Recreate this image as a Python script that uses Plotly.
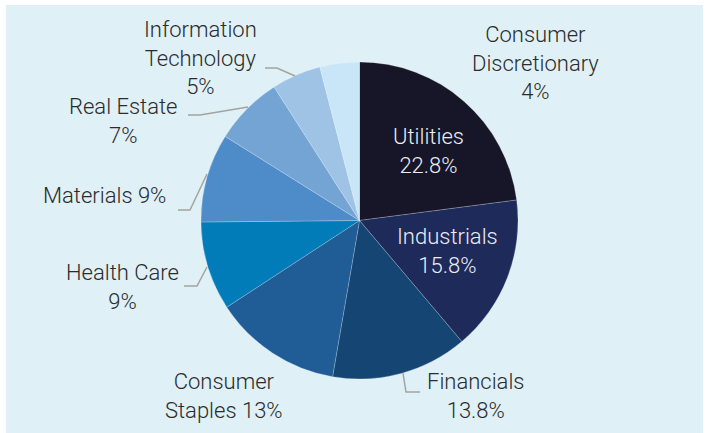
import plotly.graph_objects as go

W, H = 706, 433

sectors = ['Utilities', 'Industrials', 'Financials', 'Consumer Staples', 'Health Care',
           'Materials', 'Real Estate', 'Information Technology', 'Consumer Discretionary']
weights = [22.8, 15.8, 13.8, 13, 9, 9, 7, 5, 4]
label_text = ['Utilities<br>22.8%', 'Industrials<br>15.8%', 'Financials<br>13.8%',
              'Consumer<br>Staples 13%', 'Health Care<br>9%', 'Materials 9%',
              'Real Estate<br>7%', 'Information<br>Technology<br>5%', 'Consumer<br>Discretionary<br>4%']
slice_colors = ['#161628', '#1d2a5a', '#154673', '#205c96', '#017cb8',
                '#4d8cc8', '#74a4d4', '#9fc3e5', '#c8e6f7']

# label centres in pixels, and leader lines (pixels)
label_pos = [(428, 151), (447, 251), (475, 396), (224, 396), (122, 287),
             (105, 195), (123, 121), (200, 58), (535, 63)]
leaders = {
    'Information Technology': [(265, 68), (277, 68), (295, 76)],
    'Real Estate': [(188, 115), (200, 115), (248, 107)],
    'Materials': [(178, 210), (190, 210), (207, 174)],
    'Health Care': [(184, 286), (197, 286), (207, 267)],
    'Financials': [(420, 392), (406, 392), (403, 373)],
}


def px(x, y):
    return x / W, 1 - y / H


fig = go.Figure(go.Pie(
    labels=sectors,
    values=weights,
    sort=False,
    direction='clockwise',
    rotation=0,
    textinfo='none',
    marker=dict(colors=slice_colors, line=dict(color='rgba(255,255,255,0.35)', width=0.6)),
    domain=dict(x=[201 / W, 518 / W], y=[1 - 379 / H, 1 - 62 / H]),
    showlegend=False,
))

for i, txt in enumerate(label_text):
    x, y = px(*label_pos[i])
    inside = i < 2
    fig.add_annotation(
        x=x, y=y, xref='paper', yref='paper', text=txt, showarrow=False,
        xanchor='center', yanchor='middle', align='center',
        font=dict(family='Roboto', size=22, weight=300,
                  color='#ecedf3' if inside else '#2b2b2b'),
    )

for name, pts in leaders.items():
    path = ''
    for j, (x, y) in enumerate(pts):
        xp, yp = px(x, y)
        path += ('M' if j == 0 else 'L') + f' {xp} {yp} '
    fig.add_shape(type='path', path=path, xref='paper', yref='paper',
                  line=dict(color='#a3a3a3', width=1.5))

# white frame strips around the light blue panel
for x0, y0, x1, y1 in [(0, 0, W, 5), (0, 0, 6, H), (703, 0, W, H)]:
    a, b = px(x0, y0)
    c, d = px(x1, y1)
    fig.add_shape(type='rect', xref='paper', yref='paper', x0=a, y0=d, x1=c, y1=b,
                  fillcolor='white', line=dict(width=0))

fig.update_layout(
    width=W, height=H,
    margin=dict(l=0, r=0, t=0, b=0),
    paper_bgcolor='#dff0f6',
    plot_bgcolor='#dff0f6',
)

fig.write_html("out.html", config={'displayModeBar': False},
               post_script="document.body.style.margin='0';")
